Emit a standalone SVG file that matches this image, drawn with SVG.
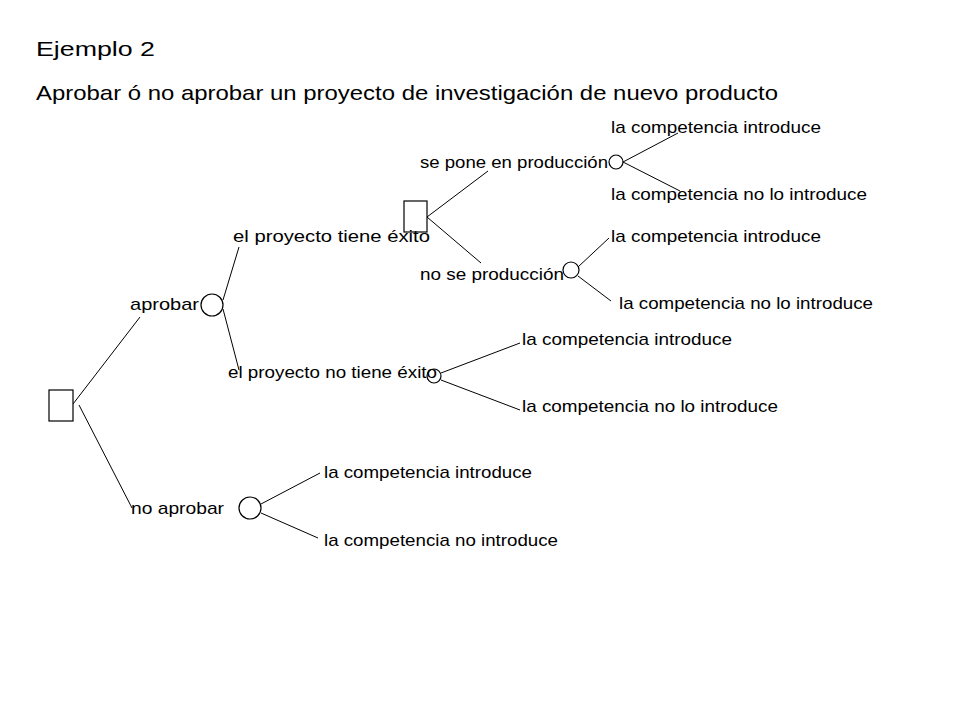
<svg xmlns="http://www.w3.org/2000/svg" width="960" height="720" viewBox="0 0 960 720">
<style>
text{font-family:"Liberation Sans",Arial,sans-serif;font-size:17px;fill:#000}
.t{font-size:21px}
.n{fill:#fff;stroke:#000;stroke-width:1.2}
line{stroke:#000;stroke-width:1}
</style>
<rect width="960" height="720" fill="#fff"/>
<text class="t" x="36" y="56" textLength="119" lengthAdjust="spacingAndGlyphs">Ejemplo 2</text>
<text class="t" x="36" y="100" textLength="742" lengthAdjust="spacingAndGlyphs">Aprobar ó no aprobar un proyecto de investigación de nuevo producto</text>
<g id="connectors">
<line x1="73" y1="404" x2="140" y2="317"/>
<line x1="79" y1="405" x2="132" y2="508"/>
<line x1="223" y1="300" x2="239" y2="247"/>
<line x1="223" y1="309" x2="239" y2="370"/>
<line x1="427" y1="217" x2="488" y2="171"/>
<line x1="427" y1="217" x2="481" y2="263"/>
<line x1="623" y1="162" x2="678" y2="133"/>
<line x1="623" y1="162" x2="680" y2="191"/>
<line x1="578" y1="267" x2="609" y2="238"/>
<line x1="578" y1="276" x2="611" y2="301"/>
<line x1="441" y1="373" x2="520" y2="343"/>
<line x1="441" y1="380" x2="520" y2="410"/>
<line x1="261" y1="504" x2="320" y2="473"/>
<line x1="261" y1="513" x2="318" y2="538"/>
</g>
<g id="root"><rect class="n" x="49" y="390" width="24" height="31"/></g>
<g id="n-aprobar"><circle class="n" cx="212" cy="305" r="11"/><text x="130" y="310" textLength="69" lengthAdjust="spacingAndGlyphs">aprobar</text></g>
<g id="n-noaprobar"><circle class="n" cx="250" cy="508" r="11"/><text x="131" y="514" textLength="93" lengthAdjust="spacingAndGlyphs">no aprobar</text></g>
<g id="n-exito"><rect class="n" x="404" y="201" width="23" height="31"/><text x="233" y="242" textLength="197" lengthAdjust="spacingAndGlyphs">el proyecto tiene éxito</text></g>
<g id="n-noexito"><circle class="n" cx="434" cy="376" r="7"/><text x="228" y="378" textLength="209" lengthAdjust="spacingAndGlyphs">el proyecto no tiene éxito</text></g>
<g id="n-pone"><circle class="n" cx="616" cy="162" r="7"/><text x="420" y="168" textLength="188" lengthAdjust="spacingAndGlyphs">se pone en producción</text></g>
<g id="n-nose"><circle class="n" cx="571" cy="270" r="8"/><text x="420" y="280" textLength="144" lengthAdjust="spacingAndGlyphs">no se producción</text></g>
<g id="leaves">
<text x="611" y="133" textLength="210" lengthAdjust="spacingAndGlyphs">la competencia introduce</text>
<text x="611" y="200" textLength="256" lengthAdjust="spacingAndGlyphs">la competencia no lo introduce</text>
<text x="611" y="242" textLength="210" lengthAdjust="spacingAndGlyphs">la competencia introduce</text>
<text x="619" y="309" textLength="254" lengthAdjust="spacingAndGlyphs">la competencia no lo introduce</text>
<text x="522" y="345" textLength="210" lengthAdjust="spacingAndGlyphs">la competencia introduce</text>
<text x="522" y="412" textLength="256" lengthAdjust="spacingAndGlyphs">la competencia no lo introduce</text>
<text x="324" y="478" textLength="208" lengthAdjust="spacingAndGlyphs">la competencia introduce</text>
<text x="324" y="546" textLength="234" lengthAdjust="spacingAndGlyphs">la competencia no introduce</text>
</g>
</svg>
